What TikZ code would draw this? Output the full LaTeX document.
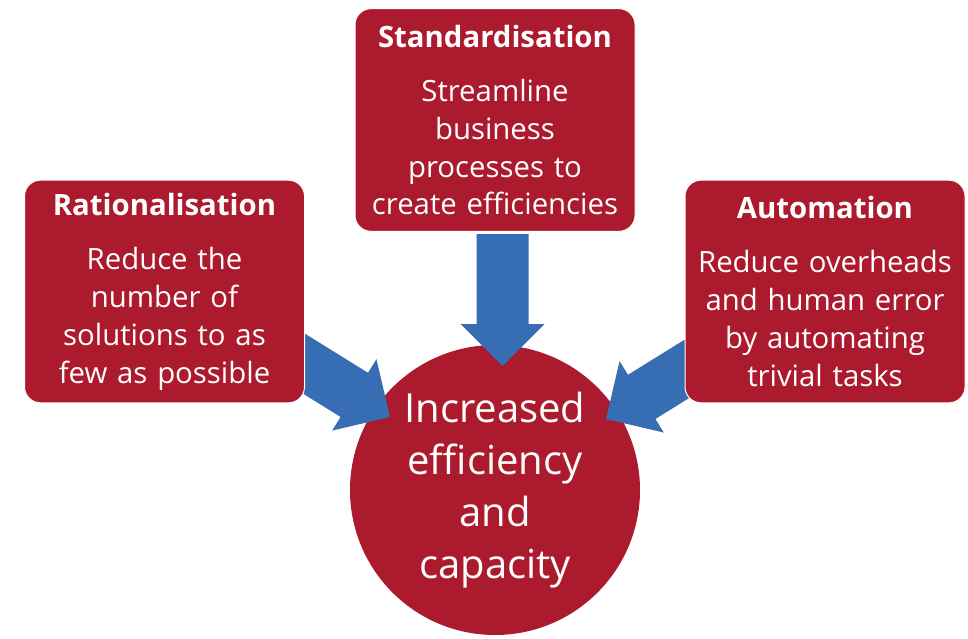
\documentclass[tikz,border=0pt]{standalone}
\usepackage{fontspec}
\setmainfont{Open Sans}
\usetikzlibrary{calc}

\definecolor{boxred}{RGB}{172,26,46}
\definecolor{arrowblue}{RGB}{55,109,179}

\tikzset{
  redbox/.style={draw=white, line width=0.75pt, fill=boxred, rounded corners=12pt,
    minimum width=210pt, minimum height=167pt, text width=206pt, align=center,
    text=white, font=\fontsize{22}{28.5}\selectfont, inner sep=0pt},
  redcircle/.style={circle, fill=boxred, minimum size=217.5pt, align=center,
    text=white, font=\fontsize{30}{39}\selectfont, inner sep=0pt},
}

% block arrow from tail #1 to tip #2
\newcommand{\blockarrow}[2]{%
  \coordinate (#1h) at ($(#2)!31.5pt!(#1)$);
  \fill[arrowblue] ($(#1)!19.5pt!90:(#2)$) -- ($(#1h)!19.5pt!90:(#2)$)
    -- ($(#1h)!31.5pt!90:(#2)$) -- (#2) -- ($(#1h)!31.5pt!-90:(#2)$)
    -- ($(#1h)!19.5pt!-90:(#2)$) -- ($(#1)!19.5pt!-90:(#2)$) -- cycle;
}

\begin{document}
\begin{tikzpicture}[x=0.75pt,y=0.75pt,yscale=-1,xscale=1]
\useasboundingbox (0,0) rectangle (968,639);

% Circle
\node [redcircle] (result) at (495,490) {Increased\\efficiency\\and\\capacity};

% Arrow ends
\coordinate (stdTail) at (502.5,234);
\coordinate (stdTip) at (502.5,366);
\coordinate (ratTail) at (279.5,348.5);
\coordinate (ratTip) at (390,417);
\coordinate (autTail) at (716.5,350.5);
\coordinate (autTip) at (606,419);

% Block Arrows
\blockarrow{stdTail}{stdTip}
\blockarrow{ratTail}{ratTip}
\blockarrow{autTail}{autTip}

% Boxes
\node [redbox] (rat) at (164.5,291.5) {\textbf{Rationalisation}\\[12pt]Reduce the\\number of\\solutions to as\\few as possible};
\node [redbox] (std) at (495,120) {\textbf{Standardisation}\\[12pt]Streamline\\business\\processes to\\create efficiencies};
\node [redbox] (aut) at (825,291.5) {\textbf{Automation}\\[12pt]Reduce overheads\\and human error\\by automating\\trivial tasks};

\end{tikzpicture}
\end{document}
